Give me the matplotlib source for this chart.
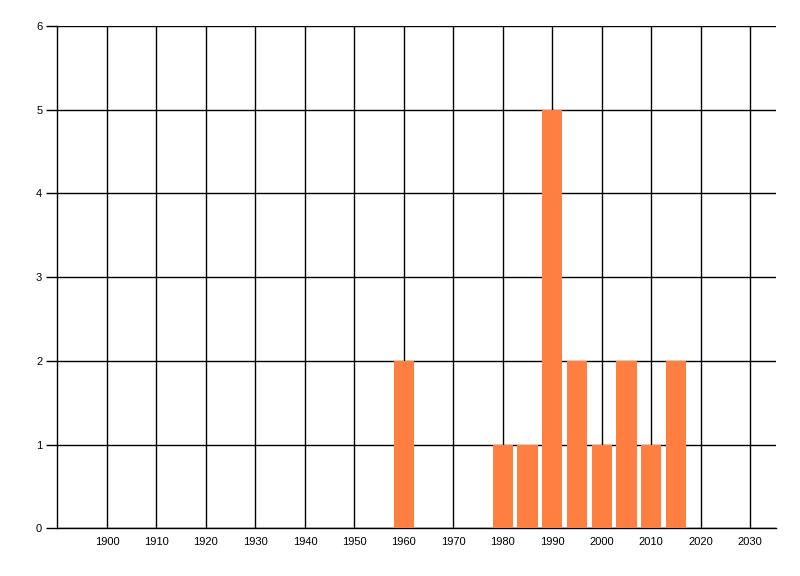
import matplotlib
matplotlib.use('Agg')
from matplotlib import pyplot as plt

years = [1960, 1980, 1985, 1990, 1995, 2000, 2005, 2010, 2015]
counts = [2, 1, 1, 5, 2, 1, 2, 1, 2]
x_ticks = list(range(1900, 2031, 10))
y_ticks = [0, 1, 2, 3, 4, 5, 6]

plt.rcParams['font.family'] = ['Liberation Sans', 'DejaVu Sans']

fig = plt.figure(figsize=(8, 5.76), dpi=100)
ax = fig.add_axes([57.5 / 800, 1 - 528.3 / 576, (775.5 - 57.5) / 800, (528.3 - 26) / 576])

ax.bar(years, counts, width=4.1, color='#ff7f40', zorder=3)

ax.set_xlim(1890, 2035.1)
ax.set_ylim(0, 6)
ax.set_xticks(x_ticks)
ax.set_yticks(y_ticks)
ax.grid(True, color='black', linewidth=1, zorder=1)
ax.set_axisbelow(True)

for s in ['top', 'right']:
    ax.spines[s].set_visible(False)
for s in ['left', 'bottom']:
    ax.spines[s].set_color('black')
    ax.spines[s].set_linewidth(1)

ax.tick_params(axis='y', length=8, width=1, pad=3, labelsize=8)
ax.tick_params(axis='x', length=0, pad=6, labelsize=8)

fig.savefig('out.png', dpi=100)
